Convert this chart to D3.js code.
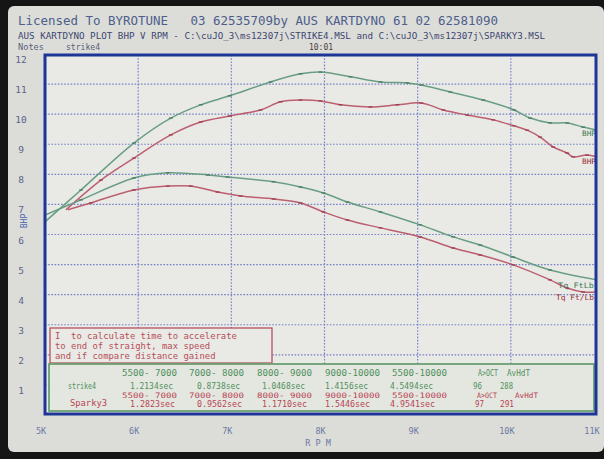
<!DOCTYPE html>
<html><head><meta charset="utf-8">
<script src="https://cdn.jsdelivr.net/npm/d3@7"></script>
<style>html,body{margin:0;padding:0;background:#111;}svg{display:block;}</style>
</head><body>
<svg id="c" width="604" height="459"></svg>
<script>
// ---- data ----
const rpmTicks = [5000, 6000, 7000, 8000, 9000, 10000, 11000];
const rpmTickLabels = ["5K", "6K", "7K", "8K", "9K", "10K", "11K"];
const bhpTicks = [1, 2, 3, 4, 5, 6, 7, 8, 9, 10, 11, 12];

const strikeBhp = [[5000,6.42],[5386,7.48],[5954,9.04],[6350,9.87],[6671,10.31],[6982,10.61],[7421,11.07],[7743,11.34],[7957,11.40],[8279,11.24],[8600,11.07],[8889,11.04],[9039,10.97],[9350,10.74],[9704,10.47],[10036,10.14],[10207,9.87],[10421,9.71],[10604,9.71],[10775,9.57],[10925,9.47]];
const sparkyBhp = [[5225,6.82],[5600,7.81],[5954,8.54],[6350,9.31],[6671,9.74],[6982,9.94],[7314,10.14],[7529,10.41],[7743,10.47],[7957,10.44],[8171,10.31],[8493,10.24],[8782,10.31],[9039,10.37],[9275,10.14],[9532,9.97],[9811,9.81],[10036,9.61],[10175,9.47],[10314,9.24],[10453,8.91],[10604,8.71],[10668,8.58],[10818,8.64],[10925,8.58]];
const strikeTq = [[5000,6.65],[5386,7.15],[5954,7.88],[6318,8.05],[6746,7.98],[6961,7.91],[7454,7.75],[7743,7.58],[7989,7.38],[8246,7.08],[8600,6.75],[9028,6.32],[9382,5.92],[9671,5.65],[10025,5.25],[10421,4.82],[10925,4.49]];
const sparkyTq = [[5246,6.82],[5493,7.05],[5954,7.48],[6318,7.61],[6564,7.61],[6854,7.41],[7100,7.28],[7454,7.18],[7743,7.05],[7989,6.75],[8246,6.48],[8600,6.22],[9028,5.92],[9382,5.55],[9671,5.32],[10025,4.99],[10421,4.49],[10604,4.22],[10775,4.09],[10925,4.09]];

const headerLine1 = "Licensed To BYROTUNE   03 62535709by AUS KARTDYNO 61 02 62581090";
const headerLine2 = "AUS KARTDYNO PLOT BHP V RPM - C:\\cuJO_3\\ms12307j\\STRIKE4.MSL and C:\\cuJO_3\\ms12307j\\SPARKY3.MSL";
const notesLabel = "Notes";
const notesText = "strike4";
const timeText = "10:01";
const noteLines = ["I  to calculate time to accelerate", "to end of straight, max speed", "and if compare distance gained"];

const rangeLabels = ["5500- 7000", "7000- 8000", "8000- 9000", "9000-10000", "5500-10000"];
const strikeTimes = ["1.2134sec", "0.8738sec", "1.0468sec", "1.4156sec", "4.5494sec"];
const sparkyTimes = ["1.2823sec", "0.9562sec", "1.1710sec", "1.5446sec", "4.9541sec"];
const statHeads = ["A>OCT", "AvHdT"];
const strikeStats = ["96", "288"];
const sparkyStats = ["97", "291"];

// ---- layout ----
const svg = d3.select("#c");
const W = 604, H = 459;
const L = 45, T = 55, R = 596, B = 414;
const x = d3.scaleLinear().domain([5000, 11000]).range([45, 604]);
const y = d3.scaleLinear().domain([0, 12]).range([415, 54]);
const green = "#6a9e84", red = "#bc5f70";
const greenDark = "#2f6848", redDark = "#8e2436";
const mono = "'DejaVu Sans Mono', 'Liberation Mono', monospace";

svg.append("rect").attr("width", W).attr("height", H).attr("fill", "#151515");
svg.append("rect").attr("x", 8).attr("y", 6).attr("width", W - 8).attr("height", 446).attr("rx", 6).attr("fill", "#dcddd8");
svg.append("rect").attr("x", L).attr("y", T).attr("width", R - L).attr("height", B - T).attr("fill", "#e9eae5");

// header
svg.append("text").attr("x", 18).attr("y", 25).attr("font-family", mono).attr("font-size", 12.5)
  .attr("fill", "#4d5d8c").attr("textLength", 480).attr("lengthAdjust", "spacingAndGlyphs")
  .style("white-space","pre").text(headerLine1);
svg.append("text").attr("x", 18).attr("y", 38.5).attr("font-family", mono).attr("font-size", 8.5)
  .attr("fill", "#3c4672").attr("textLength", 527).attr("lengthAdjust", "spacingAndGlyphs").text(headerLine2);
svg.append("text").attr("x", 18).attr("y", 50).attr("font-family", mono).attr("font-size", 8)
  .attr("fill", "#5a607a").attr("textLength", 26).attr("lengthAdjust", "spacingAndGlyphs").text(notesLabel);
svg.append("text").attr("x", 66).attr("y", 50).attr("font-family", mono).attr("font-size", 8)
  .attr("fill", "#5a607a").attr("textLength", 34).attr("lengthAdjust", "spacingAndGlyphs").text(notesText);
svg.append("text").attr("x", 309).attr("y", 50).attr("font-family", mono).attr("font-size", 8.5)
  .attr("fill", "#4a3c3c").attr("textLength", 24).attr("lengthAdjust", "spacingAndGlyphs").text(timeText);

// grid
const grid = svg.append("g").attr("stroke", "#5a68c0").attr("stroke-width", 1.2).attr("stroke-dasharray", "1.6,1.6").attr("opacity", 0.8);
bhpTicks.filter(v => v < 12).forEach(v => {
  grid.append("line").attr("x1", L).attr("x2", R).attr("y1", y(v)).attr("y2", y(v));
});
rpmTicks.filter(v => v > 5000 && v < 11000).forEach(v => {
  grid.append("line").attr("x1", x(v)).attr("x2", x(v)).attr("y1", T).attr("y2", B);
});

// y labels
svg.append("g").selectAll("text").data(bhpTicks).join("text")
  .attr("x", 21).attr("y", d => y(d) + 9).attr("text-anchor", "middle")
  .attr("font-family", mono).attr("font-size", 9.5).attr("fill", "#5a6488").text(d => d);
svg.append("text").attr("transform", "translate(27,221) rotate(-90)").attr("text-anchor", "middle")
  .attr("font-family", mono).attr("font-size", 8).attr("fill", "#4c62b0").text("BHP");

// x labels
svg.append("g").selectAll("text").data(rpmTicks).join("text")
  .attr("x", d => Math.min(x(d) - 4, 592)).attr("y", 434).attr("text-anchor", "middle")
  .attr("font-family", mono).attr("font-size", 8.5).attr("fill", "#6b78a4").text((d, i) => rpmTickLabels[i]);
svg.append("text").attr("x", 318).attr("y", 446).attr("text-anchor", "middle")
  .attr("font-family", mono).attr("font-size", 8.5).attr("fill", "#6b78a4").text("R P M");

// curves
svg.append("clipPath").attr("id", "pc").append("rect").attr("x", L).attr("y", T).attr("width", R - L).attr("height", B - T);
const line = d3.line().x(d => x(d[0])).y(d => y(d[1])).curve(d3.curveCatmullRom);
const series = [
  {data: strikeBhp, c: green, m: greenDark},
  {data: sparkyBhp, c: red, m: redDark},
  {data: strikeTq, c: green, m: greenDark},
  {data: sparkyTq, c: red, m: redDark}
];
const cg = svg.append("g").attr("clip-path", "url(#pc)");
series.forEach(s => {
  cg.append("path").attr("d", line(s.data)).attr("fill", "none").attr("stroke", s.c).attr("stroke-width", 1.5);
  cg.selectAll(null).data(s.data.slice(1)).join("line")
    .attr("x1", d => x(d[0]) - 2).attr("x2", d => x(d[0]) + 2)
    .attr("y1", d => y(d[1])).attr("y2", d => y(d[1]))
    .attr("stroke", s.m).attr("stroke-width", 1.4).attr("opacity", 0.65);
});

// right labels
const lab = (t, xx, yy, c, w) => svg.append("text").attr("x", xx).attr("y", yy).attr("font-family", mono)
  .attr("font-size", 7.5).attr("fill", c).attr("textLength", w).attr("lengthAdjust", "spacingAndGlyphs").text(t);
lab("BHP", 582, 136, "#3f7a58", 14);
lab("BHP", 582, 164, "#9a3042", 14);
lab("Tq FtLb", 558, 288, "#3f7a58", 36);
lab("Tq Ft/Lb", 556, 300, "#9a3042", 38);

// note box
svg.append("rect").attr("x", 50).attr("y", 328).attr("width", 222).attr("height", 35)
  .attr("fill", "#e9eae5").attr("stroke", "#b8505c").attr("stroke-width", 1.3);
noteLines.forEach((t, i) => {
  svg.append("text").attr("x", 55).attr("y", 339 + i * 10).attr("font-family", mono).attr("font-size", 9)
    .attr("fill", "#b84c5a").attr("textLength", t.length * 5.35).attr("lengthAdjust", "spacingAndGlyphs")
    .style("white-space", "pre").text(t);
});

// table box
svg.append("rect").attr("x", 49).attr("y", 364).attr("width", 545).attr("height", 47)
  .attr("fill", "#e4e7df").attr("stroke", "#6aa072").attr("stroke-width", 1.8);
const rangeX = [122, 189, 257, 325, 392];
const timeX = [130, 197, 262, 325, 390];
const tg = "#4f8f60", tr = "#b84456";
const txt = (t, xx, yy, c, fs, w) => svg.append("text").attr("x", xx).attr("y", yy).attr("font-family", mono)
  .attr("font-size", fs).attr("fill", c).attr("textLength", w).attr("lengthAdjust", "spacingAndGlyphs")
  .style("white-space", "pre").text(t);
rangeLabels.forEach((t, i) => txt(t, rangeX[i], 376, tg, 8.5, 55));
strikeTimes.forEach((t, i) => txt(t, timeX[i], 389, tg, 8.5, 43));
rangeLabels.forEach((t, i) => txt(t, rangeX[i], 398, tr, 7.5, 55));
sparkyTimes.forEach((t, i) => txt(t, timeX[i], 407, tr, 8.5, 45));
txt("strike4", 68, 389, tg, 8.5, 28);
txt("Sparky3", 70, 406, tr, 8.5, 37);
txt(statHeads[0], 478, 376, tg, 8.5, 20);
txt(statHeads[1], 507, 376, tg, 8.5, 23);
txt(statHeads[0], 477, 398, tr, 7.5, 20);
txt(statHeads[1], 515, 398, tr, 7.5, 23);
txt(strikeStats[0], 473, 389, tg, 8.5, 9);
txt(strikeStats[1], 500, 389, tg, 8.5, 13);
txt(sparkyStats[0], 475, 407, tr, 8.5, 9);
txt(sparkyStats[1], 500, 407, tr, 8.5, 14);

// plot border
svg.append("rect").attr("x", L).attr("y", T).attr("width", R - L).attr("height", B - T)
  .attr("fill", "none").attr("stroke", "#1d3596").attr("stroke-width", 3);
</script>
</body></html>
